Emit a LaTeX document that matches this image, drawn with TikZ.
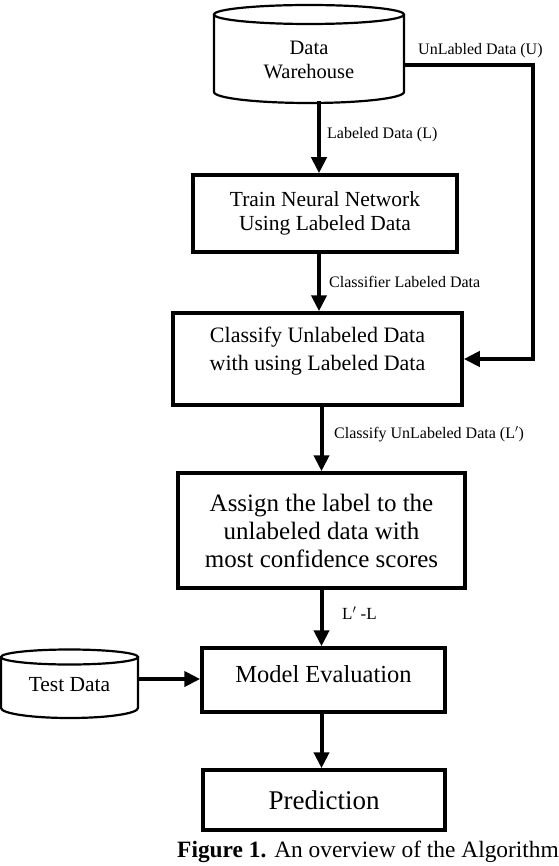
\documentclass[tikz,border=0pt]{standalone}
\usepackage{fontspec}
\setmainfont{Liberation Serif}
\usetikzlibrary{arrows.meta}

\begin{document}
\begin{tikzpicture}[
  x=1pt, y=-1pt,
  box/.style={draw, line width=3.5pt, align=center, inner sep=0pt},
  flow/.style={line width=4pt, -{Triangle[width=15pt,length=16pt]}},
  drum/.style={line width=2.2pt},
  tag/.style={anchor=west, inner sep=0pt, font=\fontsize{16}{19}\selectfont}
]
\useasboundingbox (0,0) rectangle (558,866);

% data warehouse / test data drums:
\draw [drum] (214,14.5) -- (214,92) arc[start angle=180, end angle=360, x radius=95pt, y radius=11pt] -- (404,14.5);
\draw [drum] (309,14.5) ellipse[x radius=95pt, y radius=9.5pt];
\node [align=center, font=\fontsize{20.5}{24}\selectfont] (dw) at (309,60) {Data\\Warehouse};
\coordinate (dwS) at (319,101);
\coordinate (dwE) at (404,65);

\draw [drum] (1,657) -- (1,708) arc[start angle=180, end angle=360, x radius=68.5pt, y radius=10pt] -- (138,657);
\draw [drum] (69.5,657) ellipse[x radius=68.5pt, y radius=7.5pt];
\node [font=\fontsize{21.5}{26}\selectfont] (td) at (69.5,685) {Test Data};
\coordinate (tdE) at (138,679);

% process boxes
\node [box, minimum width=264pt, minimum height=77pt, font=\fontsize{21.5}{24}\selectfont] (train) at (325,213.5) {Train Neural Network\\Using Labeled Data};
\node [box, minimum width=289pt, minimum height=92pt, text depth=21pt, font=\fontsize{22}{28}\selectfont] (classify) at (317.5,359) {Classify Unlabeled Data\\with using Labeled Data};
\node [box, minimum width=287pt, minimum height=115pt, font=\fontsize{25}{28}\selectfont] (assign) at (321.5,530.5) {Assign the label to the\\unlabeled data with\\most confidence scores};
\node [box, minimum width=243pt, minimum height=64pt, text depth=12pt, font=\fontsize{24.5}{28}\selectfont] (model) at (323.5,680) {Model Evaluation};
\node [box, minimum width=242pt, minimum height=60pt, font=\fontsize{27}{30}\selectfont] (predict) at (324,800) {Prediction};

\draw [flow] (dwS) -- (dwS |- train.north);
\draw [flow] (train.south -| dwS) -- (classify.north -| dwS);
\draw [flow] (dwE) -- ++(129,0) |- (classify.east);
\draw [flow] (classify.south -| assign) -- (assign.north);
\draw [flow] (assign.south) -- (model.north -| assign);
\draw [flow] (tdE) -- (tdE -| model.west);
\draw [flow] (model.south -| assign) -- (predict.north -| assign);

\node [tag] (lu) at (418,51) {UnLabled Data (U)};
\node [tag] (ll) at (327,135) {Labeled Data (L)};
\node [tag] (lc) at (329,282) {Classifier Labeled Data};
\node [tag] (lcu) at (334,434) {Classify UnLabeled Data (L$'$)};
\node [tag, font=\fontsize{17}{20}\selectfont] (ld) at (342,613) {L$'$ -L};

\node [anchor=base west, inner sep=0pt, font=\fontsize{23.4}{28}\selectfont] (cap) at (177,857) {\textbf{Figure 1.} An overview of the Algorithm};
\end{tikzpicture}
\end{document}
